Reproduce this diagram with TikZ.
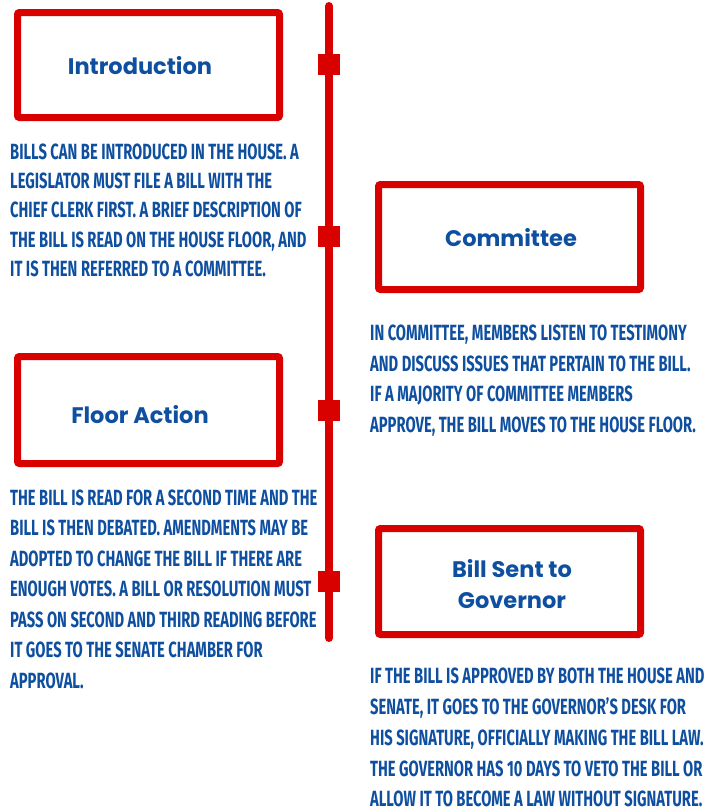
\documentclass[tikz,border=0pt]{standalone}
\usepackage{fontspec}
\newfontfamily\headfont{Poppins}
\newfontfamily\bodyfont[FakeStretch=0.67]{Fira Sans}
\definecolor{tlred}{HTML}{D90000}
\definecolor{tlblue}{HTML}{0F4FA0}
\begin{document}
\begin{tikzpicture}[x=1pt,y=-1pt,
  box/.style={draw=tlred,line width=7pt,rounded corners=2pt,minimum width=262pt,minimum height=105pt,inner sep=0pt},
  title/.style={text=tlblue,font=\headfont\bfseries\fontsize{22.5}{31}\selectfont,align=center,inner sep=0pt},
  body/.style={text=tlblue,font=\bodyfont\bfseries\fontsize{22}{30.5}\selectfont,align=left,anchor=north west,inner sep=0pt},
  tick/.style={fill=tlred,minimum width=22pt,minimum height=21pt,inner sep=0pt}]
\useasboundingbox (0,0) rectangle (706,812);
% timeline
\coordinate (ltop) at (329,6);
\coordinate (lbot) at (329,638);
\draw[tlred,line width=8pt,line cap=round] (ltop) -- (lbot);
\node[tick] (t1) at (329,64) {};
\node[tick] (t2) at (329,236) {};
\node[tick] (t3) at (329,410) {};
\node[tick] (t4) at (329,581) {};
% boxes
\node[box] (b1) at (148.5,65) {};
\node[box] (b2) at (509.5,237) {};
\node[box,minimum height=107pt] (b3) at (148.5,410) {};
\node[box,minimum height=106pt] (b4) at (509.5,581.5) {};
\node[title] (h1) at (140,66) {Introduction};
\node[title] (h2) at (511,238) {Committee};
\node[title] (h3) at (140,415) {Floor Action};
\node[title] (h4) at (512,584) {Bill Sent to\\Governor};
% texts
\node[body,font=\bodyfont\bfseries\fontsize{22}{29.3}\selectfont] (p1) at (10,143.5) {BILLS CAN BE INTRODUCED IN THE HOUSE. A\\
LEGISLATOR MUST FILE A BILL WITH THE\\
CHIEF CLERK FIRST. A BRIEF DESCRIPTION OF\\
THE BILL IS READ ON THE HOUSE FLOOR, AND\\
IT IS THEN REFERRED TO A COMMITTEE.};
\node[body] (p2) at (370,325) {IN COMMITTEE, MEMBERS LISTEN TO TESTIMONY\\
AND DISCUSS ISSUES THAT PERTAIN TO THE BILL.\\
IF A MAJORITY OF COMMITTEE MEMBERS\\
APPROVE, THE BILL MOVES TO THE HOUSE FLOOR.};
\node[body] (p3) at (10,489.5) {THE BILL IS READ FOR A SECOND TIME AND THE\\
BILL IS THEN DEBATED. AMENDMENTS MAY BE\\
ADOPTED TO CHANGE THE BILL IF THERE ARE\\
ENOUGH VOTES. A BILL OR RESOLUTION MUST\\
PASS ON SECOND AND THIRD READING BEFORE\\
IT GOES TO THE SENATE CHAMBER FOR\\
APPROVAL.};
\node[body,font=\bodyfont\bfseries\fontsize{22}{30.9}\selectfont] (p4) at (370,667.5) {IF THE BILL IS APPROVED BY BOTH THE HOUSE AND\\
SENATE, IT GOES TO THE GOVERNOR’S DESK FOR\\
HIS SIGNATURE, OFFICIALLY MAKING THE BILL LAW.\\
THE GOVERNOR HAS 10 DAYS TO VETO THE BILL OR\\
ALLOW IT TO BECOME A LAW WITHOUT SIGNATURE.};
\end{tikzpicture}
\end{document}
